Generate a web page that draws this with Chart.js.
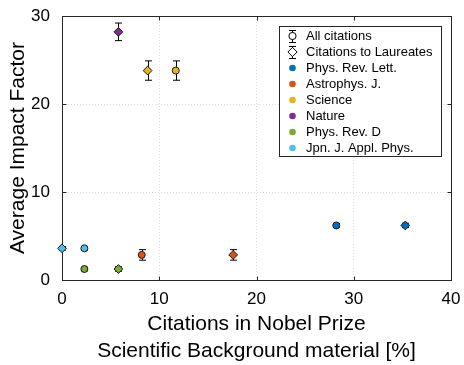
<!DOCTYPE html>
<html lang="en">
<head>
    <meta charset="UTF-8">
    <title>Average Impact Factor vs. Nobel citations</title>
    <script src="https://cdn.jsdelivr.net/npm/chart.js"></script>
    <style>
        body {
            margin: 0;
            padding: 0;
            background-color: white;
        }
        .chart-container {
            width: 464px;
            height: 365px;
            position: relative;
        }
    </style>
</head>
<body>
    <div class="chart-container">
        <canvas id="scatterChart"></canvas>
    </div>

    <script>
        // journals, in legend order
        const journals = ['Phys. Rev. Lett.', 'Astrophys. J.', 'Science', 'Nature', 'Phys. Rev. D', 'Jpn. J. Appl. Phys.'];
        const journalColors = ['#0072BD', '#D95319', '#EDB120', '#7E2F8E', '#77AC30', '#4DBEEE'];

        // all citations (circles); Nature has no separate visible point
        const allX = [28.2, 8.2, 11.7, null, 2.3, 2.3];
        const allY = [6.2, 2.85, 23.8, null, 1.25, 3.6];
        const allErr = [0.2, 0.6, 1.1, null, 0.2, 0.2];

        // citations to laureates (diamonds)
        const laurX = [35.3, 17.6, 8.8, 5.8, 5.8, 0];
        const laurY = [6.2, 2.85, 23.8, 28.2, 1.25, 3.6];
        const laurErr = [0.25, 0.6, 1.1, 1.0, 0.25, 0.2];

        const xTicks = [0, 10, 20, 30, 40];
        const yTicks = [0, 10, 20, 30];
        const seriesLabels = ['All citations', 'Citations to Laureates'];

        const FONT = "'Liberation Sans', Arial, Helvetica, sans-serif";
        const AXIS_COLOR = '#262626';

        const datasets = [];
        journals.forEach((name, i) => {
            if (allX[i] !== null) {
                datasets.push({
                    label: name + ' (all)',
                    data: [{ x: allX[i], y: allY[i] }],
                    errors: [allErr[i]],
                    clip: false,
                    pointStyle: 'circle',
                    pointRadius: 3.5,
                    pointBackgroundColor: journalColors[i],
                    pointBorderColor: '#1a1a1a',
                    pointBorderWidth: 1
                });
            }
            datasets.push({
                label: name + ' (laureates)',
                data: [{ x: laurX[i], y: laurY[i] }],
                errors: [laurErr[i]],
                clip: false,
                pointStyle: 'rectRot',
                pointRadius: 4.4,
                pointBackgroundColor: journalColors[i],
                pointBorderColor: '#1a1a1a',
                pointBorderWidth: 1
            });
        });

        // vertical error bars with caps, drawn under the markers
        const errorBars = {
            id: 'errorBars',
            beforeDatasetsDraw(chart) {
                const ctx = chart.ctx;
                const xs = chart.scales.x, ys = chart.scales.y;
                ctx.save();
                ctx.strokeStyle = '#000';
                ctx.lineWidth = 1;
                chart.data.datasets.forEach(ds => {
                    ds.data.forEach((p, k) => {
                        const e = ds.errors[k];
                        const px = Math.round(xs.getPixelForValue(p.x)) + 0.5;
                        const top = ys.getPixelForValue(p.y + e);
                        const bot = ys.getPixelForValue(p.y - e);
                        ctx.beginPath();
                        ctx.moveTo(px, top);
                        ctx.lineTo(px, bot);
                        ctx.moveTo(px - 3.5, top);
                        ctx.lineTo(px + 3.5, top);
                        ctx.moveTo(px - 3.5, bot);
                        ctx.lineTo(px + 3.5, bot);
                        ctx.stroke();
                    });
                });
                ctx.restore();
            }
        };

        // box frame with inward ticks on all four sides
        const frame = {
            id: 'frame',
            beforeDatasetsDraw(chart) {
                const ctx = chart.ctx;
                const a = chart.chartArea;
                const xs = chart.scales.x, ys = chart.scales.y;
                const L = Math.round(a.left) + 0.5, R = Math.round(a.right) + 0.5;
                const T = Math.round(a.top) + 0.5, B = Math.round(a.bottom) + 0.5;
                ctx.save();
                ctx.strokeStyle = AXIS_COLOR;
                ctx.lineWidth = 1;
                ctx.strokeRect(L, T, R - L, B - T);
                ctx.beginPath();
                xTicks.forEach(v => {
                    const px = Math.round(xs.getPixelForValue(v)) + 0.5;
                    ctx.moveTo(px, B); ctx.lineTo(px, B - 4);
                    ctx.moveTo(px, T); ctx.lineTo(px, T + 4);
                });
                yTicks.forEach(v => {
                    const py = Math.round(ys.getPixelForValue(v)) + 0.5;
                    ctx.moveTo(L, py); ctx.lineTo(L + 4, py);
                    ctx.moveTo(R, py); ctx.lineTo(R - 4, py);
                });
                ctx.stroke();
                ctx.restore();
            }
        };

        // MATLAB-style legend box in the top right corner
        const boxLegend = {
            id: 'boxLegend',
            afterDraw(chart) {
                const ctx = chart.ctx;
                const bx = 279.5, by = 26.5, bw = 162, bh = 130;
                const mx = 292, tx = 306, row0 = 36, rowH = 16;
                ctx.save();
                ctx.fillStyle = '#fff';
                ctx.fillRect(bx, by, bw, bh);
                ctx.strokeStyle = AXIS_COLOR;
                ctx.lineWidth = 1;
                ctx.strokeRect(bx, by, bw, bh);

                ctx.font = '13px ' + FONT;
                ctx.textBaseline = 'middle';
                ctx.fillStyle = '#000';

                // error-bar icons for the two series
                seriesLabels.forEach((lab, i) => {
                    const y = row0 + rowH * i;
                    ctx.strokeStyle = '#000';
                    ctx.beginPath();
                    ctx.moveTo(mx + 0.5, y - 6); ctx.lineTo(mx + 0.5, y + 6);
                    ctx.moveTo(mx - 3, y - 6 + 0.5); ctx.lineTo(mx + 4, y - 6 + 0.5);
                    ctx.moveTo(mx - 3, y + 6 + 0.5); ctx.lineTo(mx + 4, y + 6 + 0.5);
                    ctx.stroke();
                    ctx.fillStyle = '#fff';
                    ctx.beginPath();
                    if (i === 0) {
                        ctx.arc(mx + 0.5, y, 3.6, 0, Math.PI * 2);
                    } else {
                        ctx.moveTo(mx + 0.5, y - 4.6);
                        ctx.lineTo(mx + 5.1, y);
                        ctx.lineTo(mx + 0.5, y + 4.6);
                        ctx.lineTo(mx - 4.1, y);
                        ctx.closePath();
                    }
                    ctx.fill();
                    ctx.stroke();
                    ctx.fillStyle = '#000';
                    ctx.fillText(lab, tx, y);
                });

                journals.forEach((name, i) => {
                    const y = row0 + rowH * (i + 2);
                    ctx.fillStyle = journalColors[i];
                    ctx.beginPath();
                    ctx.arc(mx + 0.5, y, 3.3, 0, Math.PI * 2);
                    ctx.fill();
                    ctx.fillStyle = '#000';
                    ctx.fillText(name, tx, y);
                });
                ctx.restore();
            }
        };

        const ctx = document.getElementById('scatterChart').getContext('2d');
        new Chart(ctx, {
            type: 'scatter',
            data: { datasets: datasets },
            options: {
                responsive: true,
                maintainAspectRatio: false,
                animation: false,
                layout: { padding: { top: 16, right: 13, left: 0, bottom: 0 } },
                scales: {
                    x: {
                        type: 'linear',
                        min: 0,
                        max: 40,
                        afterBuildTicks: s => { s.ticks = xTicks.map(v => ({ value: v })); },
                        afterFit: s => { s.height = 85; s.paddingLeft = 0; s.paddingRight = 0; },
                        grid: { color: '#dcdcdc', drawTicks: false },
                        border: { display: false, dash: [1, 2] },
                        ticks: {
                            color: '#000',
                            padding: 9,
                            maxRotation: 0,
                            font: { family: FONT, size: 17 }
                        },
                        title: {
                            display: true,
                            text: ['Citations in Nobel Prize', 'Scientific Background material [%]'],
                            color: '#000',
                            padding: { top: 0, bottom: 1 },
                            font: { family: FONT, size: 21, lineHeight: 1.25 }
                        }
                    },
                    y: {
                        type: 'linear',
                        min: 0,
                        max: 30,
                        afterBuildTicks: s => { s.ticks = yTicks.map(v => ({ value: v })); },
                        afterFit: s => { s.width = 62; s.paddingTop = 0; s.paddingBottom = 0; },
                        grid: { color: '#dcdcdc', drawTicks: false },
                        border: { display: false, dash: [1, 2] },
                        ticks: {
                            color: '#000',
                            padding: 12,
                            font: { family: FONT, size: 17 }
                        },
                        title: {
                            display: true,
                            text: 'Average Impact Factor',
                            color: '#000',
                            padding: { top: 6, bottom: 0 },
                            font: { family: FONT, size: 21 }
                        }
                    }
                },
                plugins: {
                    legend: { display: false },
                    title: { display: false },
                    tooltip: { enabled: false }
                }
            },
            plugins: [errorBars, frame, boxLegend]
        });
    </script>
</body>
</html>
